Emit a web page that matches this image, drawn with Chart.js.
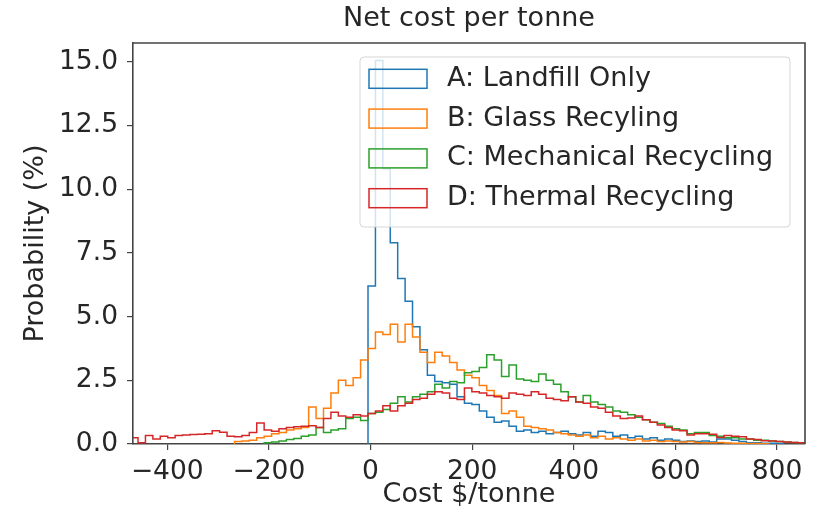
<!DOCTYPE html>
<html lang="en">
<head>
<meta charset="UTF-8">
<title>Net cost per tonne</title>
<style>
  body { margin: 0; background: #fff; }
  #wrap { width: 813px; height: 516px; }
</style>
</head>
<body>
<div id="wrap"><canvas id="myChart"></canvas></div>

<script src="https://cdn.jsdelivr.net/npm/chart.js"></script>
<script>
"use strict"

// histogram bins (shared grid, $/tonne)
const binStart = -472.2
const binWidth = 14.6

const labels = ["A: Landfill Only", "B: Glass Recyling", "C: Mechanical Recycling", "D: Thermal Recycling"]
const colors = ["#1f77b4", "#ff7f0e", "#2ca02c", "#d62728"]

// A: Landfill Only, starts at bin 32
const landfillFirst = 32
const landfill = [6.2, 15.05, 10.8, 7.9, 6.5, 5.6, 4.6, 3.7, 2.7, 2.45, 2.4, 2.35, 1.85, 1.6, 1.55, 1.3,
  1.05, 0.85, 0.9, 0.7, 0.5, 0.55, 0.45, 0.5, 0.4, 0.45, 0.5, 0.4, 0.35, 0.45, 0.3, 0.5, 0.45, 0.3,
  0.35, 0.25, 0.3, 0.2, 0.25, 0.15, 0.2, 0.15, 0.1, 0.12, 0.1, 0.12, 0.08, 0.2, 0.2, 0.15, 0.1, 0.05,
  0.05, 0.03, 0.03, 0.02]

// B: Glass Recycling, starts at bin 14
const glassFirst = 14
const glass = [0.1, 0.12, 0.15, 0.25, 0.3, 0.4, 0.45, 0.55, 0.6, 0.65, 1.45, 1.0, 1.4, 2.0, 2.5, 2.3,
  2.6, 3.3, 3.75, 4.4, 4.3, 4.7, 4.0, 4.7, 4.2, 3.6, 3.2, 3.6, 3.45, 3.2, 2.9, 2.7, 2.6, 2.3, 2.1, 1.9,
  1.2, 1.3, 1.05, 0.7, 0.65, 0.6, 0.55, 0.45, 0.4, 0.35, 0.3, 0.35, 0.25, 0.3, 0.2, 0.25, 0.2, 0.15,
  0.2, 0.12, 0.15, 0.1, 0.12, 0.1, 0.08, 0.1, 0.06, 0.05, 0.05, 0.06, 0.04, 0.03, 0.03, 0.02, 0.02, 0.01]

// C: Mechanical Recycling, starts at bin 18
const mechFirst = 18
const mech = [0.05, 0.08, 0.12, 0.18, 0.22, 0.3, 0.35, 0.65, 0.45, 0.55, 0.6, 1.0, 1.05, 0.92, 1.2, 1.25,
  1.35, 1.6, 1.85, 1.65, 1.85, 1.95, 2.05, 2.35, 2.2, 2.45, 2.4, 2.8, 2.85, 3.0, 3.5, 3.3, 2.65, 3.1,
  2.55, 2.5, 2.45, 2.75, 2.5, 2.35, 2.05, 1.85, 1.65, 1.9, 1.65, 1.55, 1.45, 1.3, 1.25, 1.15, 1.05,
  0.95, 0.85, 0.8, 0.7, 0.6, 0.55, 0.4, 0.45, 0.45, 0.33, 0.3, 0.25, 0.25, 0.2, 0.2, 0.15, 0.15, 0.12,
  0.1, 0.08, 0.06, 0.05]

// D: Thermal Recycling, starts at bin 0
const thermalFirst = 0
const thermal = [0.25, 0.05, 0.33, 0.2, 0.3, 0.25, 0.33, 0.35, 0.37, 0.38, 0.4, 0.52, 0.46, 0.3, 0.28,
  0.33, 0.45, 0.82, 0.55, 0.5, 0.6, 0.65, 0.68, 0.7, 0.72, 0.65, 1.0, 1.25, 1.1, 1.05, 1.15, 1.1, 1.2,
  1.3, 1.5, 1.3, 1.5, 1.6, 1.75, 1.8, 1.95, 2.05, 2.0, 1.8, 1.75, 2.2, 2.05, 2.0, 1.9, 1.85, 1.8, 2.0,
  1.95, 1.9, 2.05, 1.95, 1.8, 1.75, 1.7, 1.85, 1.65, 1.6, 1.45, 1.4, 1.25, 1.1, 1.0, 1.02, 1.1, 0.95,
  0.85, 0.75, 0.65, 0.55, 0.52, 0.35, 0.4, 0.4, 0.38, 0.26, 0.33, 0.3, 0.28, 0.2, 0.18, 0.13, 0.12,
  0.1, 0.08, 0.06, 0.05]

const xMin = -467.5
const xMax = 855
const yMax = 15.74
const xTicks = [-400, -200, 0, 200, 400, 600, 800]
const yTicks = [0, 2.5, 5, 7.5, 10, 12.5, 15]

const FONT = "'DejaVu Sans', 'Liberation Sans', sans-serif"
const TEXT = "#262626"
const AXIS = "#444"

// turn bin values into a step outline
function steps(first, values){
    const edge = k => binStart + k * binWidth
    let pts = [{x: edge(first), y: 0}]
    values.forEach((v, k) => pts.push({x: edge(first + k), y: v}))
    pts.push({x: edge(first + values.length), y: 0})
    return pts
}

const series = [
    steps(landfillFirst, landfill),
    steps(glassFirst, glass),
    steps(mechFirst, mech),
    steps(thermalFirst, thermal)
]

// top/right spines + legend box drawn like matplotlib
const frameAndLegend = {
    id: "frameAndLegend",
    afterDatasetsDraw(chart){
        const {ctx, chartArea: a} = chart
        ctx.save()
        ctx.strokeStyle = AXIS
        ctx.lineWidth = 1.6
        ctx.beginPath()
        ctx.moveTo(a.left, a.top)
        ctx.lineTo(a.right, a.top)
        ctx.lineTo(a.right, a.bottom)
        ctx.stroke()

        // legend frame
        const lx = 360, ly = 57, lw = 430, lh = 170, r = 4
        ctx.beginPath()
        ctx.roundRect(lx, ly, lw, lh, r)
        ctx.fillStyle = "rgba(255,255,255,0.8)"
        ctx.fill()
        ctx.strokeStyle = "rgba(204,204,204,0.8)"
        ctx.lineWidth = 1
        ctx.stroke()

        ctx.font = "27px " + FONT
        ctx.textBaseline = "middle"
        ctx.textAlign = "left"
        for(let i = 0; i < labels.length; i++){
            const cy = 78.8 + i * 39.8
            ctx.strokeStyle = colors[i]
            ctx.lineWidth = 1.5
            ctx.strokeRect(369, cy - 9.5, 58, 19)
            ctx.fillStyle = TEXT
            ctx.fillText(labels[i], 447, cy)
        }
        ctx.restore()
    }
}

const minus = s => String(s).replace("-", "\u2212")

const ctx = document.getElementById("myChart")
let graph = new Chart(ctx, {
    type: "line",
    data: {
        datasets: series.map((pts, i) => ({
            label: labels[i],
            data: pts,
            borderColor: colors[i],
            backgroundColor: "rgba(0,0,0,0)",
            borderWidth: 1.5,
            pointRadius: 0,
            fill: false,
            stepped: "before",
            order: labels.length - i
        }))
    },
    options: {
        responsive: true,
        maintainAspectRatio: false,
        animation: false,
        layout: { padding: { left: 0, right: 8, top: 0, bottom: 0 } },
        plugins: {
            legend: { display: false },
            tooltip: { enabled: false },
            title: {
                display: true,
                text: "Net cost per tonne",
                fullSize: false,
                color: TEXT,
                font: { family: FONT, size: 27, weight: "normal", lineHeight: 1.2 },
                padding: { top: 3, bottom: 7.6 }
            }
        },
        scales: {
            x: {
                type: "linear",
                min: xMin,
                max: xMax,
                afterFit: s => { s.height = 72 },
                afterBuildTicks: s => { s.ticks = xTicks.map(v => ({value: v})) },
                border: { display: true, color: AXIS, width: 1.6 },
                grid: { display: true, drawOnChartArea: false, drawTicks: true, tickLength: 6, color: AXIS, lineWidth: 1.2 },
                ticks: {
                    color: TEXT,
                    padding: 6,
                    maxRotation: 0,
                    font: { family: FONT, size: 26.5 },
                    callback: v => minus(v)
                },
                title: {
                    display: true,
                    text: "Cost $/tonne",
                    color: TEXT,
                    font: { family: FONT, size: 27, lineHeight: 1.2 },
                    padding: { top: 0, bottom: 4.8 }
                }
            },
            y: {
                type: "linear",
                min: 0,
                max: yMax,
                afterFit: s => { s.width = 133 },
                afterBuildTicks: s => { s.ticks = yTicks.map(v => ({value: v})) },
                border: { display: true, color: AXIS, width: 1.6 },
                grid: { display: true, drawOnChartArea: false, drawTicks: true, tickLength: 6, color: AXIS, lineWidth: 1.2 },
                ticks: {
                    color: TEXT,
                    padding: 9,
                    font: { family: FONT, size: 26.5 },
                    callback: v => v.toFixed(1)
                },
                title: {
                    display: true,
                    text: "Probability (%)",
                    color: TEXT,
                    font: { family: FONT, size: 27, lineHeight: 1.2 },
                    padding: { top: 19.3, bottom: 0 }
                }
            }
        }
    },
    plugins: [frameAndLegend]
})
</script>
</body>
</html>
